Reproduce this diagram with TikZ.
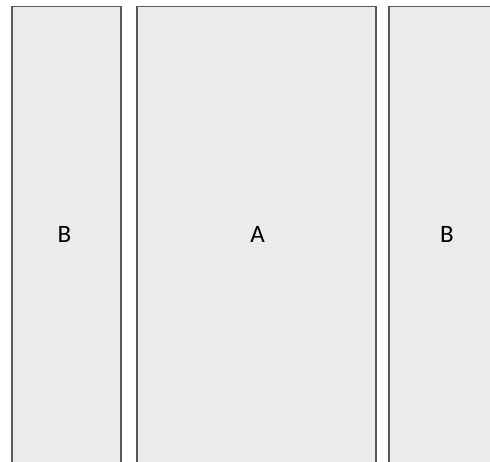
\documentclass[tikz,border=0pt]{standalone}
\usepackage{fontspec}
\setmainfont{Carlito}
\tikzset{
  panel/.style={fill=black!8,draw=black!65,line width=1.4pt},
  lbl/.style={font=\fontsize{25}{30}\selectfont,inner sep=0pt,anchor=base}
}
\begin{document}
\begin{tikzpicture}[x=1pt,y=-1pt]
\useasboundingbox (0,0) rectangle (490,461);
\clip (0,0) rectangle (490,461);
%panels
\draw[panel] (12,6.5) rectangle (121,480);
\draw[panel] (137,6.5) rectangle (376,480);
\draw[panel] (389,6.5) rectangle (510,480);
%labels
\node[lbl] (leftB) at (64.5,242.3) {B};
\node[lbl] (midA) at (257.5,242.3) {A};
\node[lbl] (rightB) at (447,242.3) {B};
\end{tikzpicture}
\end{document}
